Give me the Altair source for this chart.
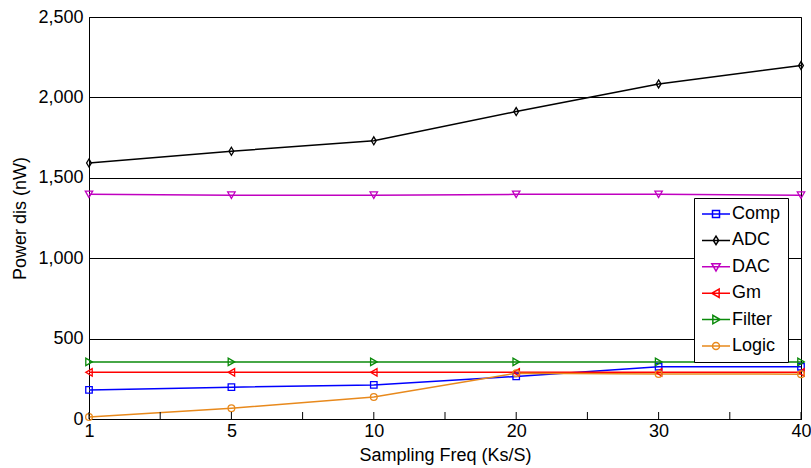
import altair as alt
import pandas as pd

# ---- data ----
freq_labels = ["1", "5", "10", "20", "30", "40"]
series_names = ["Comp", "ADC", "DAC", "Gm", "Filter", "Logic"]
comp = [181, 198, 212, 265, 325, 325]
adc = [1592, 1665, 1730, 1912, 2084, 2198]
dac = [1397, 1392, 1392, 1397, 1397, 1392]
gm = [290, 290, 290, 290, 290, 290]
filt = [355, 355, 355, 355, 355, 355]
logic = [12, 67, 137, 285, 280, 279]
y_ticks = [0, 500, 1000, 1500, 2000, 2500]

colors = ["#0000ff", "#000000", "#c000c0", "#ff0000", "#0a8a0a", "#e8891c"]
marker_shapes = ["square", "M0,-1L0.6,0L0,1L-0.6,0Z", "triangle-down",
                 "triangle-left", "triangle-right", "circle"]
marker_sizes = [42, 64, 55, 55, 55, 45]
legend_paths = [
    "M-2,0H2M-0.5,-0.5H0.5V0.5H-0.5Z",
    "M-2,0H2M0,-0.6L0.38,0L0,0.6L-0.38,0Z",
    "M-2,0H2M-0.6,-0.45H0.6L0,0.6Z",
    "M-2,0H2M0.45,-0.6V0.6L-0.6,0Z",
    "M-2,0H2M-0.45,-0.6V0.6L0.6,0Z",
    "M-2,0H2M0.5,0A0.5,0.5,0,1,1,-0.5,0A0.5,0.5,0,1,1,0.5,0Z",
]

values = {"Comp": comp, "ADC": adc, "DAC": dac, "Gm": gm, "Filter": filt, "Logic": logic}
rows = []
for name in series_names:
    for i, f in enumerate(freq_labels):
        rows.append({"idx": i, "freq": f, "series": name, "value": values[name][i]})
df = pd.DataFrame(rows)

n = len(freq_labels)
# axis tick positions: one at each category and one midway between
tick_df = pd.DataFrame({"pos": [i * 0.5 for i in range(2 * n - 1)]})

FONT = "Liberation Sans"
W, H = 712, 402
label_arr = "[" + ",".join("'" + f + "'" for f in freq_labels) + "]"

xscale = alt.Scale(domain=[0, n - 1], nice=False, zero=False)
x_main = alt.X("idx:Q", scale=xscale, axis=alt.Axis(
    orient="bottom", values=list(range(n)), labelExpr=label_arr + "[datum.value]",
    ticks=False, grid=False, domainColor="black", domainWidth=1,
    labelFontSize=18, labelPadding=3, labelFlush=False, labelOverlap=False,
    title="Sampling Freq (Ks/S)", titleFontSize=18, titlePadding=6))
x_none = alt.X("idx:Q", scale=xscale, axis=None)

y_enc = alt.Y("value:Q", scale=alt.Scale(domain=[0, 2500], nice=False, zero=True),
              axis=alt.Axis(values=y_ticks, labelExpr="format(datum.value, ',')",
                            grid=True, gridColor="black",
                            gridOpacity=1, gridWidth=1, ticks=False, domainColor="black",
                            labelFontSize=18, labelPadding=6, title="Power dis (nW)",
                            titleFontSize=18, titlePadding=8))

cscale = alt.Scale(domain=series_names, range=colors)
legend_def = alt.Legend(
    title=None, orient="none", legendX=605, legendY=181,
    strokeColor="black", fillColor="white", padding=7, rowPadding=8.4,
    labelFontSize=18, labelFont=FONT, labelColor="black",
    symbolSize=196, symbolStrokeWidth=1.5, symbolOffset=6, labelOffset=7,
    symbolOpacity=1, symbolFillColor="transparent",
    labelExpr="datum.label + ' '")
color_enc = alt.Color("series:N", scale=cscale, legend=legend_def)
shape_legend = alt.Shape("series:N", scale=alt.Scale(domain=series_names, range=legend_paths),
                         legend=legend_def)

base = alt.Chart(df)

lines = base.mark_line(strokeWidth=1.5).encode(x=x_main, y=y_enc, color=color_enc)

layers = [lines]
for name, shp, sz in zip(series_names, marker_shapes, marker_sizes):
    layers.append(
        base.transform_filter(alt.datum.series == name)
        .mark_point(shape=shp, size=sz, filled=False, strokeWidth=1.3, opacity=1)
        .encode(x=x_none, y=y_enc, color=color_enc)
    )

legend_layer = (base.mark_point(filled=False, size=196, strokeWidth=1.5, opacity=0)
                .encode(x=x_none, y=y_enc, color=color_enc, shape=shape_legend))
layers.append(legend_layer)

# inward-pointing x ticks along the bottom edge
ticks = (alt.Chart(tick_df)
         .mark_tick(orient="vertical", size=7, thickness=1, color="black", opacity=1)
         .encode(x=alt.X("pos:Q", scale=xscale, axis=None), y=alt.value(H - 3.5)))
layers.append(ticks)

chart = (alt.layer(*layers)
         .resolve_axis(x="independent")
         .properties(width=W, height=H,
                     autosize=alt.AutoSizeParams(type="none"),
                     padding={"left": 89, "top": 17, "right": 10, "bottom": 49})
         .configure(font=FONT)
         .configure_view(stroke="black", strokeWidth=1)
         .configure_axis(labelColor="black", titleColor="black", titleFontWeight="normal",
                         labelFont=FONT, titleFont=FONT))

chart.save("out.html", embed_options={"renderer": "svg", "actions": False})
